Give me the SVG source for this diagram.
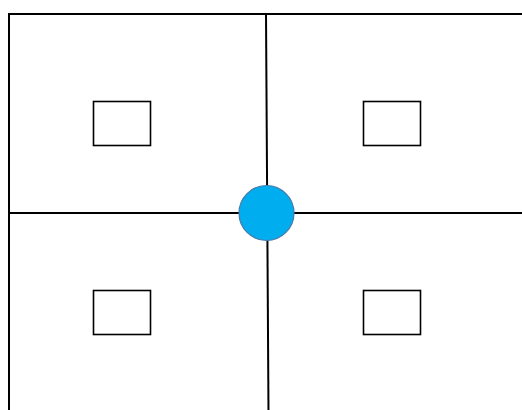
<svg xmlns="http://www.w3.org/2000/svg" width="522" height="410" viewBox="0 0 522 410">
<style>
.ln{stroke:#000;stroke-width:2;fill:none}
.box{fill:#fff;stroke:#000;stroke-width:1.6}
.hub{fill:#00aeef;stroke:#4a7aa8;stroke-width:1.2}
</style>
<rect width="522" height="410" fill="#fff"/>
<g id="connectors">
<path class="ln" d="M9,412 V14 H524"/>
<path class="ln" d="M9,213 H524"/>
<path class="ln" d="M266,14 L268.5,412"/>
</g>
<g id="box-tl"><rect class="box" x="93.5" y="101.5" width="57" height="44"/></g>
<g id="box-tr"><rect class="box" x="363.5" y="101.5" width="57" height="44"/></g>
<g id="box-bl"><rect class="box" x="93.5" y="290.5" width="57" height="44"/></g>
<g id="box-br"><rect class="box" x="363.5" y="290.5" width="57" height="44"/></g>
<g id="hub"><circle class="hub" cx="266.5" cy="213" r="27.5"/></g>
</svg>
